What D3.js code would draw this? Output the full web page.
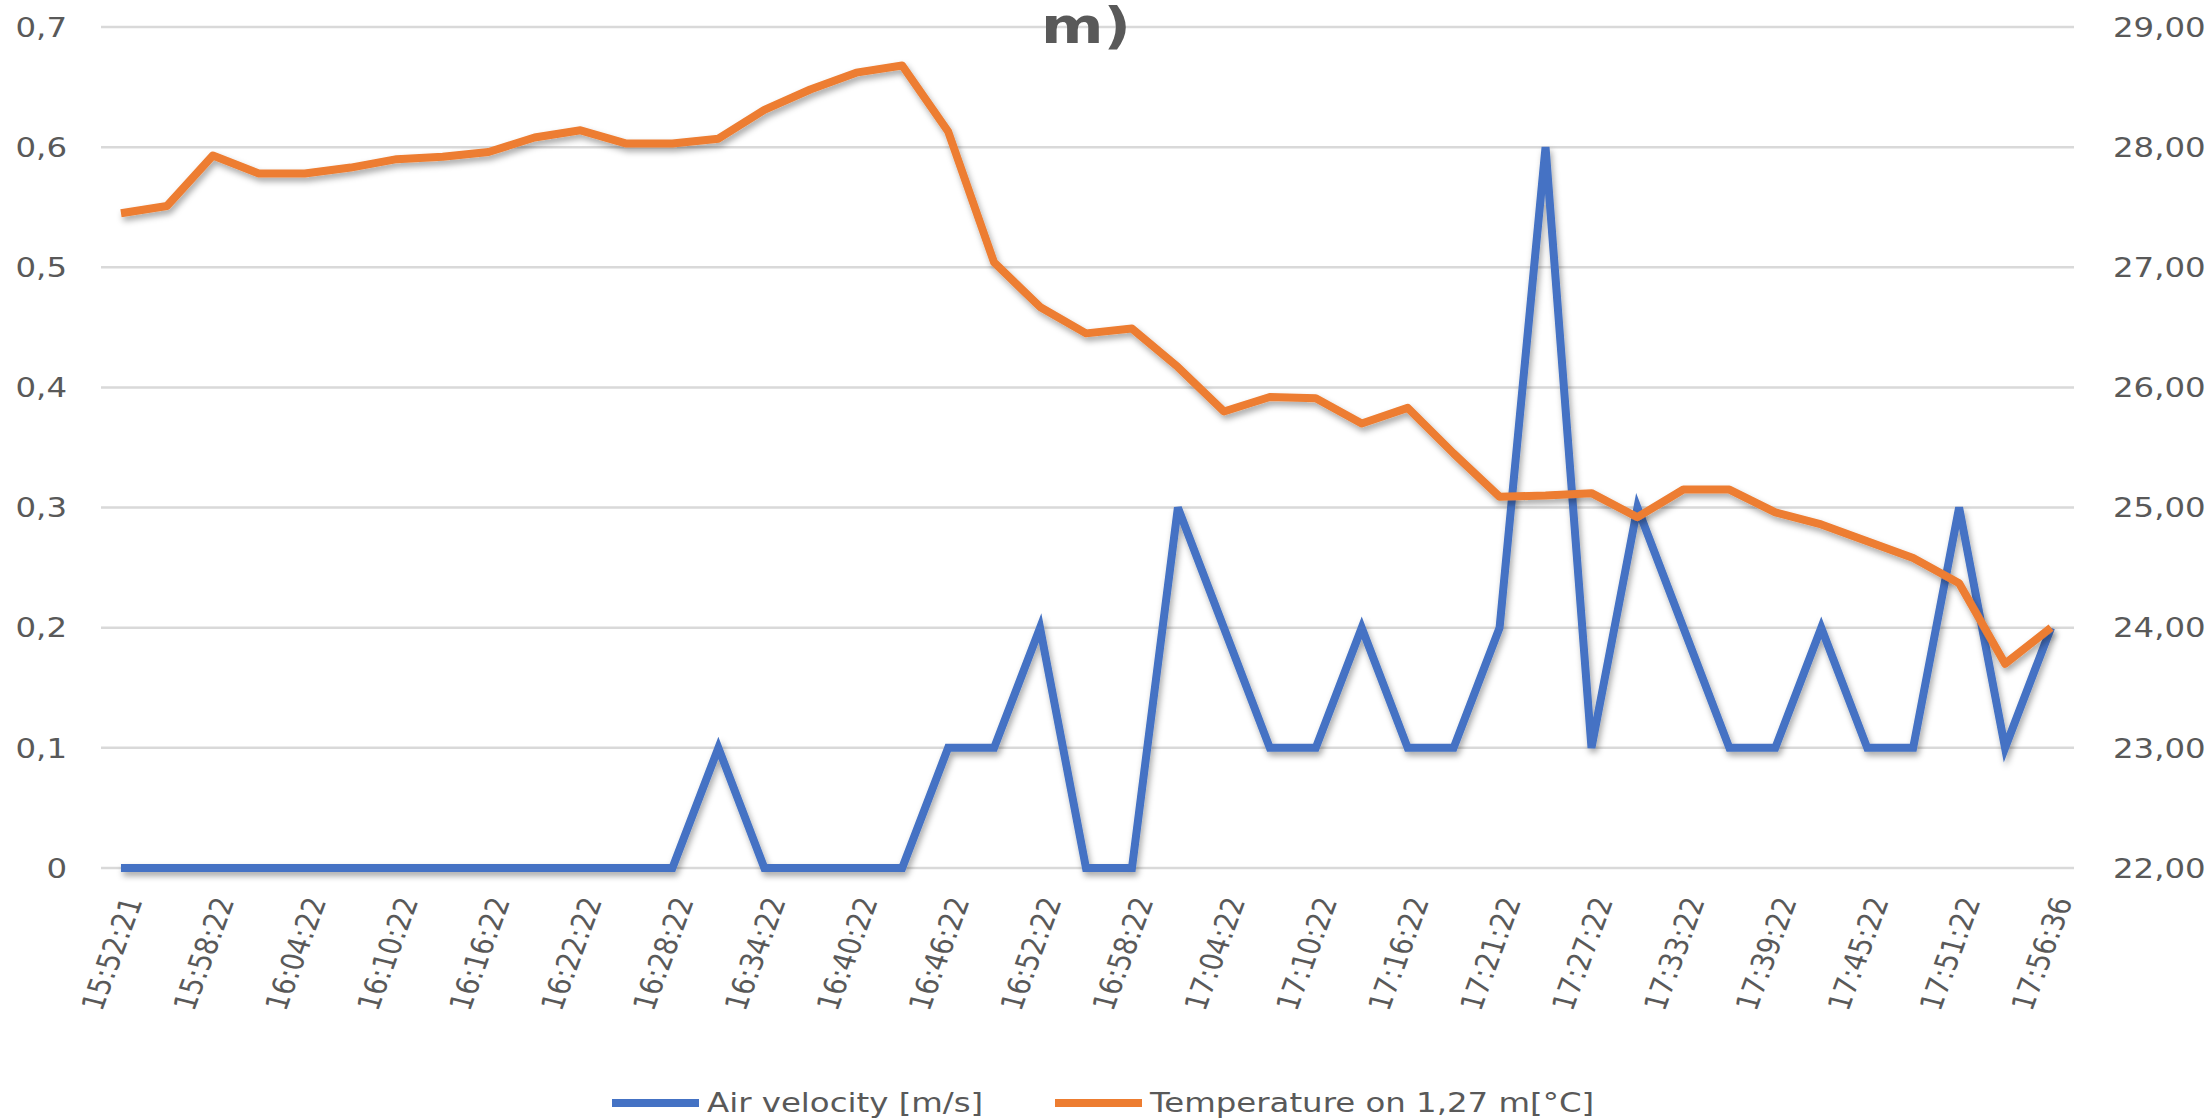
<!DOCTYPE html>
<html>
<head>
<meta charset="utf-8">
<script src="https://cdn.jsdelivr.net/npm/d3@7"></script>
<style>
  html, body { margin: 0; padding: 0; background: #fff; }
  svg { display: block; }
  text { font-family: "DejaVu Sans", sans-serif; fill: #595959; }
</style>
</head>
<body>
<svg id="chart" width="2205" height="1118"></svg>
<script>
// ---- Data ----
const categories = [
  "15:52:21","15:55:22","15:58:22","16:01:22","16:04:22","16:07:22","16:10:22","16:13:22",
  "16:16:22","16:19:22","16:22:22","16:25:22","16:28:22","16:31:22","16:34:22","16:37:22",
  "16:40:22","16:43:22","16:46:22","16:49:22","16:52:22","16:55:22","16:58:22","17:01:22",
  "17:04:22","17:07:22","17:10:22","17:13:22","17:16:22","17:18:22","17:21:22","17:24:22",
  "17:27:22","17:30:22","17:33:22","17:36:22","17:39:22","17:42:22","17:45:22","17:48:22",
  "17:51:22","17:54:22","17:56:36"
];
const airVelocity = [
  0,0,0,0,0,0,0,0,0,0,0,0,0,0.1,0,0,0,0,0.1,0.1,0.2,0,0,0.3,0.2,0.1,0.1,0.2,0.1,0.1,
  0.2,0.6,0.1,0.3,0.2,0.1,0.1,0.2,0.1,0.1,0.3,0.1,0.2
];
const temperature = [
  27.45,27.51,27.93,27.78,27.78,27.83,27.90,27.92,27.96,28.08,28.14,28.03,28.03,28.07,28.31,28.48,
  28.62,28.68,28.13,27.04,26.67,26.45,26.49,26.17,25.80,25.92,25.91,25.70,25.83,25.45,25.09,25.10,
  25.12,24.92,25.15,25.15,24.96,24.86,24.72,24.58,24.37,23.70,24.00
];
const leftTicks = [0,0.1,0.2,0.3,0.4,0.5,0.6,0.7];
const leftTickLabels = ["0","0,1","0,2","0,3","0,4","0,5","0,6","0,7"];
const rightTicks = [22,23,24,25,26,27,28,29];
const rightTickLabels = ["22,00","23,00","24,00","25,00","26,00","27,00","28,00","29,00"];
const seriesNames = ["Air velocity [m/s]", "Temperature on 1,27 m[°C]"];
const seriesColors = ["#4472C4", "#ED7D31"];
const titleText = "m)";

// ---- Layout ----
const svg = d3.select("#chart");
const plotL = 98, plotR = 2074, plotT = 27, plotB = 868;
const SX = 1.2;

const x = d3.scalePoint().domain(categories).range([plotL, plotR]).padding(0.5);
const yL = d3.scaleLinear().domain([0, 0.7]).range([plotB, plotT]);
const yR = d3.scaleLinear().domain([22, 29]).range([plotB, plotT]);

// shadow filter
const defs = svg.append("defs");
const f = defs.append("filter").attr("id", "shadow")
  .attr("x", "-5%").attr("y", "-5%").attr("width", "110%").attr("height", "110%");
f.append("feDropShadow").attr("dx", 2).attr("dy", 4).attr("stdDeviation", 3)
  .attr("flood-color", "#000").attr("flood-opacity", 0.35);

// gridlines
svg.append("g").selectAll("line").data(leftTicks).join("line")
  .attr("x1", plotL + 3).attr("x2", plotR)
  .attr("y1", d => yL(d)).attr("y2", d => yL(d))
  .attr("stroke", "#D9D9D9").attr("stroke-width", 2.5);

// left axis labels
svg.append("g").selectAll("text").data(leftTicks).join("text")
  .attr("transform", d => `translate(67,${yL(d)}) scale(${SX},1)`)
  .attr("text-anchor", "end").attr("dy", "0.36em")
  .attr("font-size", 27)
  .text((d, i) => leftTickLabels[i]);

// right axis labels
svg.append("g").selectAll("text").data(rightTicks).join("text")
  .attr("transform", d => `translate(2113,${yR(d)}) scale(${SX},1)`)
  .attr("text-anchor", "start").attr("dy", "0.36em")
  .attr("font-size", 27)
  .text((d, i) => rightTickLabels[i]);

// x labels (every other category, the last included)
const labelIdx = categories.map((c, i) => i).filter(i => i % 2 === 0);
svg.append("g").selectAll("text").data(labelIdx).join("text")
  .attr("transform", i => `translate(${x(categories[i]) + 11},${898}) scale(${SX},1) rotate(-73)`)
  .attr("text-anchor", "end").attr("dy", "0.36em")
  .attr("font-size", 26)
  .text(i => categories[i]);

// lines
const lineV = d3.line().x((d, i) => x(categories[i])).y(d => yL(d));
const lineT = d3.line().x((d, i) => x(categories[i])).y(d => yR(d));

svg.append("path").datum(airVelocity)
  .attr("d", lineV).attr("fill", "none")
  .attr("stroke", seriesColors[0]).attr("stroke-width", 8)
  .attr("stroke-linejoin", "miter").attr("stroke-miterlimit", 4)
  .attr("filter", "url(#shadow)");

svg.append("path").datum(temperature)
  .attr("d", lineT).attr("fill", "none")
  .attr("stroke", seriesColors[1]).attr("stroke-width", 8)
  .attr("stroke-linejoin", "round")
  .attr("filter", "url(#shadow)");

// title (cut off at top, as in the reference)
svg.append("text")
  .attr("transform", `translate(1086,43) scale(${SX},1)`)
  .attr("text-anchor", "middle")
  .attr("font-size", 50).attr("font-weight", "bold")
  .text(titleText);

// legend
const legend = [
  { name: seriesNames[0], color: seriesColors[0], x1: 612, x2: 699, tx: 707 },
  { name: seriesNames[1], color: seriesColors[1], x1: 1055, x2: 1142, tx: 1150 }
];
const lg = svg.append("g");
legend.forEach(l => {
  lg.append("line").attr("x1", l.x1).attr("x2", l.x2).attr("y1", 1103).attr("y2", 1103)
    .attr("stroke", l.color).attr("stroke-width", 8);
  lg.append("text")
    .attr("transform", `translate(${l.tx},1102) scale(${SX},1)`)
    .attr("dy", "0.36em").attr("font-size", 27)
    .text(l.name);
});
</script>
</body>
</html>
